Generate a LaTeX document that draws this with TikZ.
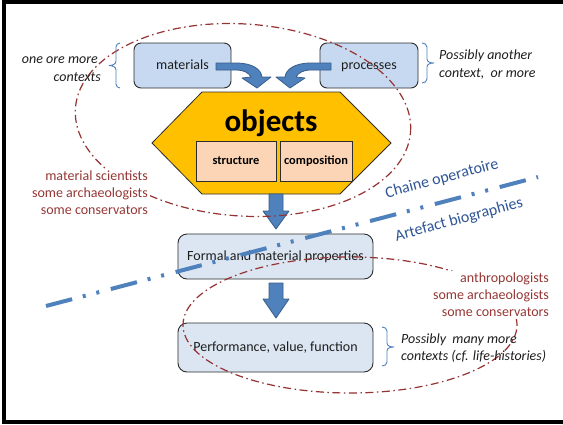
\documentclass[tikz,border=0pt]{standalone}
\usepackage{fontspec}
\setmainfont{Carlito}
\usetikzlibrary{calc}
\definecolor{boxblue}{RGB}{198,217,241}
\definecolor{boxlight}{RGB}{220,230,242}
\definecolor{gold}{RGB}{255,192,0}
\definecolor{peach}{RGB}{251,213,181}
\definecolor{arrblue}{RGB}{79,129,189}
\definecolor{arredge}{RGB}{56,93,138}
\definecolor{redtxt}{RGB}{149,55,53}
\definecolor{redline}{RGB}{150,50,50}
\definecolor{bluetxt}{RGB}{47,85,151}
\definecolor{edgegray}{RGB}{45,45,45}
\definecolor{darktxt}{RGB}{30,30,30}
\begin{document}
\begin{tikzpicture}[x=1pt,y=1pt,
  rbox/.style={draw=edgegray, line width=0.9pt, rounded corners=7pt, fill=boxblue,
    font=\fontsize{14}{17}\selectfont, text=darktxt, inner sep=0pt, text height=10pt, text depth=3pt},
  lbox/.style={rbox, fill=boxlight, rounded corners=9pt},
  pbox/.style={draw=edgegray, line width=0.8pt, fill=peach, font=\fontsize{12.4}{15}\bfseries, text=black,
    inner sep=0pt, text height=9pt, text depth=3pt},
  blockarrow/.style={fill=arrblue, draw=arredge, line width=0.8pt, line join=round},
  ctxline/.style={draw=redline, line width=1.2pt, dash pattern=on 8pt off 3.5pt on 1.5pt off 3.5pt},
  redlabel/.style={font=\fontsize{14}{17}\selectfont, text=redtxt},
  itlabel/.style={font=\fontsize{14}{17}\selectfont\itshape, text=darktxt, inner sep=0pt},
  bracket/.style={draw=arrblue, line width=0.9pt},
  phaseline/.style={draw=arrblue, line width=4pt, dash pattern=on 27pt off 11pt on 3pt off 11pt on 3pt off 12pt},
  phaselabel/.style={font=\fontsize{16}{19}\selectfont, text=bluetxt, rotate=15}
]
\useasboundingbox (0,0) rectangle (563,-424);
\fill[white] (0,0) rectangle (563,-424);
% frame
\draw[line width=3.5pt] (3.9,-424) -- (3.9,-1.8) -- (563,-1.8);
\draw[line width=4pt] (2,-422) -- (563,-422);

% top boxes
\node[rbox, minimum width=97, minimum height=45] (mat) at (182.5,-65.5) {materials};
\node[rbox, minimum width=98, minimum height=45] (proc) at (369,-65.5) {processes};

% curved arrows
\draw[blockarrow] (216,-63) -- (236,-63) .. controls (252,-63) and (261,-69) .. (262,-77)
  -- (271,-77) -- (257,-88) -- (242,-78) -- (251,-77)
  .. controls (249,-73) and (244,-70) .. (236,-70) -- (216,-70) -- cycle;
\draw[blockarrow] (331,-63) -- (311,-63) .. controls (295,-63) and (286,-69) .. (285,-77)
  -- (276,-77) -- (290,-88) -- (305,-78) -- (296,-77)
  .. controls (298,-73) and (303,-70) .. (311,-70) -- (331,-70) -- cycle;

% objects hexagon
\draw[fill=gold, draw=edgegray, line width=0.8pt] (152,-143) -- (202,-92) -- (340,-92) -- (391,-143) -- (340,-194) -- (202,-194) -- cycle;
\node[anchor=base, font=\fontsize{31}{34}\bfseries, inner sep=0pt] (obj) at (271,-131) {objects};
\node[pbox, minimum width=80, minimum height=40] (str) at (236,-161) {structure};
\node[pbox, minimum width=72, minimum height=40] (comp) at (316,-161) {composition};

% lower boxes
\node[lbox, minimum width=195, minimum height=45] (form) at (275.5,-256.5) {Formal and material properties};
\node[lbox, minimum width=195, minimum height=49] (perf) at (275.5,-347.5) {Performance, value, function};

% down arrows
\draw[blockarrow] (269,-194) -- (269,-211) -- (263,-211) -- (276,-229) -- (289,-211) -- (283,-211) -- (283,-194) -- cycle;
\draw[blockarrow] (269,-283) -- (269,-299) -- (263,-299) -- (276,-318) -- (289,-299) -- (283,-299) -- (283,-283) -- cycle;

% context ellipses
\draw[ctxline, rotate around={-4:(243,-120)}] (243,-120) ellipse [x radius=168, y radius=96];
\draw[ctxline] (350,-325) ellipse [x radius=167, y radius=68];

% red labels (white backed)
\node[redlabel, align=right, anchor=north east, fill=white, inner sep=2pt] (sci) at (150,-169)
  {material scientists\\some archaeologists\\some conservators};
\node[redlabel, align=right, anchor=north east, fill=white, inner sep=2pt] (anth) at (551,-271)
  {anthropologists\\some archaeologists\\some conservators};

% braces
\draw[bracket] (120,-43) to[out=180,in=90] (116,-47) -- (116,-61) to[out=-90,in=0] (109,-65.5)
  to[out=0,in=90] (116,-70) -- (116,-84) to[out=-90,in=180] (120,-88);
\draw[bracket] (422,-43) to[out=0,in=90] (427,-47) -- (427,-59) to[out=-90,in=180] (434,-63)
  to[out=180,in=90] (427,-67) -- (427,-79) to[out=-90,in=0] (422,-83);
\draw[bracket] (382,-327) to[out=0,in=90] (387,-331) -- (387,-343) to[out=-90,in=180] (394,-347)
  to[out=180,in=90] (387,-351) -- (387,-362) to[out=-90,in=0] (382,-366);

% italic labels
\node[itlabel, anchor=base east] (ctx1a) at (98,-63.5) {one ore more};
\node[itlabel, anchor=base east] (ctx1b) at (101,-81) {contexts};
\node[itlabel, anchor=base west] (ctx2a) at (439,-59.5) {Possibly another};
\node[itlabel, anchor=base west] (ctx2b) at (439,-77) {context,\ \ or more};
\node[itlabel, anchor=base west] (ctx3a) at (401,-343.5) {Possibly\ \ many more};
\node[itlabel, anchor=base west] (ctx3b) at (401,-360.5) {contexts (cf. life-histories)};

% phase line
\coordinate (pl1) at (46,-306);
\coordinate (pl2) at (538,-177);
\draw[phaseline] (pl1) -- (pl2);
\node[phaselabel] (chaine) at (442,-179) {Chaine operatoire};
\node[phaselabel] (bio) at (459,-220) {Artefact biographies};
\end{tikzpicture}
\end{document}
